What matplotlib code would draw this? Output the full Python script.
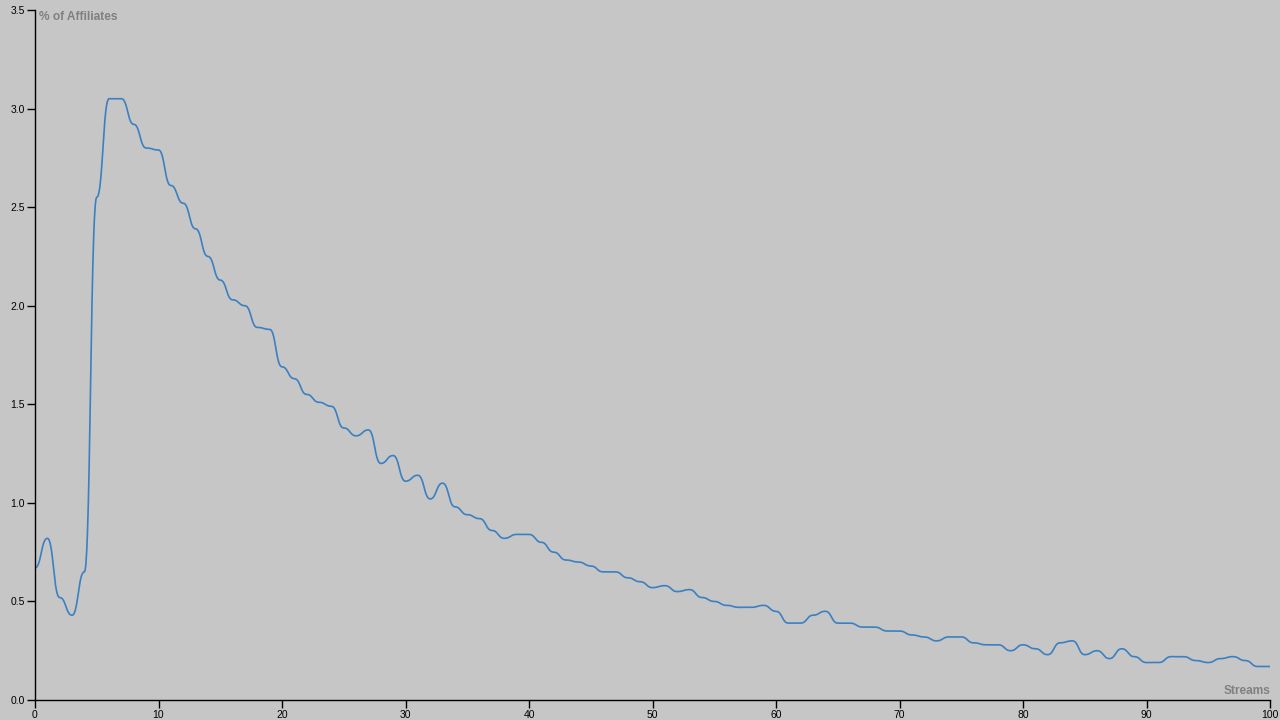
import numpy as np
import matplotlib
matplotlib.use("Agg")
import matplotlib.pyplot as plt

# share of affiliates (%) by number of streams
streams = list(range(0, 101))
pct_affiliates = [
    0.67, 0.82, 0.52, 0.43, 0.65, 2.55, 3.05, 3.05, 2.92, 2.80,
    2.79, 2.61, 2.52, 2.39, 2.25, 2.13, 2.03, 2.00, 1.89, 1.88,
    1.69, 1.63, 1.55, 1.51, 1.49, 1.38, 1.34, 1.37, 1.20, 1.24,
    1.11, 1.14, 1.02, 1.10, 0.98, 0.94, 0.92, 0.86, 0.82, 0.84,
    0.84, 0.80, 0.75, 0.71, 0.70, 0.68, 0.65, 0.65, 0.62, 0.60,
    0.57, 0.58, 0.55, 0.56, 0.52, 0.50, 0.48, 0.47, 0.47, 0.48,
    0.45, 0.39, 0.39, 0.43, 0.45, 0.39, 0.39, 0.37, 0.37, 0.35,
    0.35, 0.33, 0.32, 0.30, 0.32, 0.32, 0.29, 0.28, 0.28, 0.25,
    0.28, 0.26, 0.23, 0.29, 0.30, 0.23, 0.25, 0.21, 0.26, 0.22,
    0.19, 0.19, 0.22, 0.22, 0.20, 0.19, 0.21, 0.22, 0.20, 0.17,
    0.17,
]


def bump_x(xs, ys, n=40):
    # cubic bezier between points, control points at the horizontal midpoint
    t = np.linspace(0, 1, n, endpoint=False)
    b0 = (1 - t) ** 3
    b1 = 3 * (1 - t) ** 2 * t
    b2 = 3 * (1 - t) * t ** 2
    b3 = t ** 3
    out_x, out_y = [], []
    for i in range(len(xs) - 1):
        x0, x1 = xs[i], xs[i + 1]
        y0, y1 = ys[i], ys[i + 1]
        xm = (x0 + x1) / 2
        out_x.append(b0 * x0 + (b1 + b2) * xm + b3 * x1)
        out_y.append((b0 + b1) * y0 + (b2 + b3) * y1)
    out_x.append([xs[-1]])
    out_y.append([ys[-1]])
    return np.concatenate(out_x), np.concatenate(out_y)


plt.rcParams["font.family"] = ["Liberation Sans", "DejaVu Sans"]

bg = "#c6c6c6"
fig = plt.figure(figsize=(12.8, 7.2), dpi=100, facecolor=bg)
ax = fig.add_axes([35 / 1280, 20 / 720, 1235 / 1280, 690 / 720], facecolor=bg)

sx, sy = bump_x(streams, pct_affiliates)
ax.plot(sx, sy, color="#3a80c2", lw=1.2)

ax.set_xlim(0, 100)
ax.set_ylim(0, 3.5)
ax.set_xticks(np.arange(0, 101, 10))
ax.set_yticks(np.arange(0, 3.51, 0.5))
ax.set_yticklabels([f"{v:.1f}" for v in np.arange(0, 3.51, 0.5)])
ax.tick_params(labelsize=7.5, length=6, width=1, colors="black", pad=1.5)
for side in ["top", "right"]:
    ax.spines[side].set_visible(False)
for side in ["left", "bottom"]:
    ax.spines[side].set_color("black")
    ax.spines[side].set_linewidth(1)

ax.text(4 / 1235, 1 - 1 / 690, "% of Affiliates", transform=ax.transAxes,
        ha="left", va="top", fontsize=8.6, fontweight="bold", color="#808080")
ax.text(1, 3 / 690, "Streams", transform=ax.transAxes,
        ha="right", va="bottom", fontsize=8.6, fontweight="bold", color="#808080")

fig.savefig("out.png", dpi=100, facecolor=bg)
